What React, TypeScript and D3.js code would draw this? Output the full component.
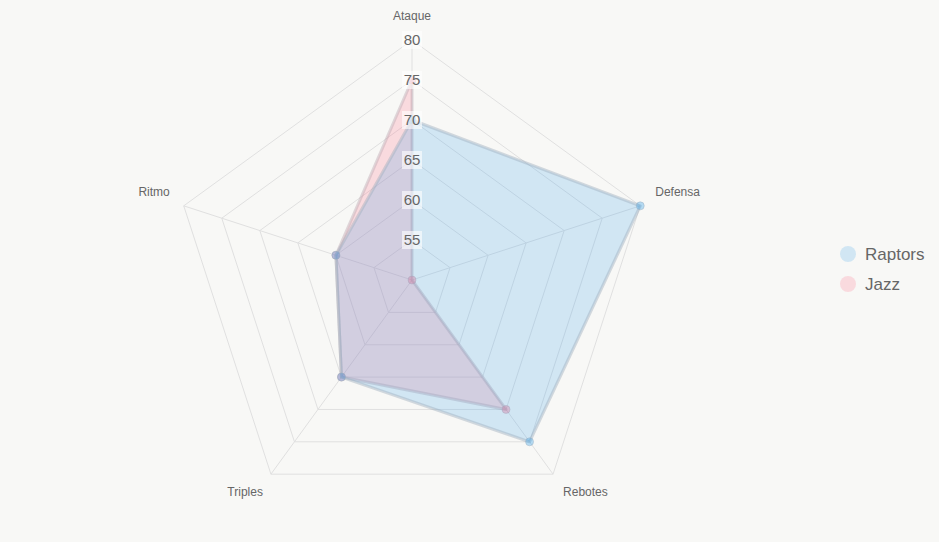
import * as d3 from "d3";
import { useEffect, useRef } from "react";

// radar axes and values
const axes = ["Ataque", "Defensa", "Rebotes", "Triples", "Ritmo"];
const raptors = [70, 80, 75, 65, 60];
const jazz = [75, 50, 70, 65, 60];
const ticks = [55, 60, 65, 70, 75, 80];
const seriesNames = ["Raptors", "Jazz"];

const W = 939;
const H = 542;
const cx = 412;
const cy = 280;
const R = 240;

const fills = ["rgba(54,162,235,0.2)", "rgba(255,99,132,0.2)"];
const strokes = ["rgba(160,175,190,0.45)", "rgba(190,170,180,0.45)"];
const pointFills = ["rgba(54,162,235,0.35)", "rgba(255,99,132,0.35)"];

const draw = (el: SVGSVGElement) => {
  const svg = d3.select(el);
  svg.selectAll("*").remove();
  const font = "'Liberation Sans', Arial, sans-serif";

  svg.append("rect").attr("width", W).attr("height", H).attr("fill", "#f8f8f6");

  const r = d3.scaleLinear().domain([50, 80]).range([0, R]);
  const angle = (i: number) => (i * 2 * Math.PI) / axes.length;
  const pt = (i: number, v: number): [number, number] => [
    cx + r(v) * Math.sin(angle(i)),
    cy - r(v) * Math.cos(angle(i)),
  ];

  const g = svg.append("g");

  // grid rings
  ticks.forEach((t) => {
    const pts = axes.map((_, i) => pt(i, t));
    g.append("path")
      .attr("d", d3.line()([...pts, pts[0]]))
      .attr("fill", "none")
      .attr("stroke", "#e0e0e0")
      .attr("stroke-width", 1);
  });
  // angle lines
  axes.forEach((_, i) => {
    const [x, y] = pt(i, 80);
    g.append("line")
      .attr("x1", cx).attr("y1", cy).attr("x2", x).attr("y2", y)
      .attr("stroke", "#e0e0e0");
  });

  // datasets, first one drawn on top
  const line = d3.line().curve(d3.curveLinearClosed);
  const sets = [raptors, jazz];
  [1, 0].forEach((s) => {
    const pts = sets[s].map((v, i) => pt(i, v));
    g.append("path")
      .attr("d", line(pts))
      .attr("fill", fills[s])
      .attr("stroke", strokes[s])
      .attr("stroke-width", 3)
      .attr("stroke-linejoin", "round");
    pts.forEach(([x, y]) => {
      g.append("circle")
        .attr("cx", x).attr("cy", y).attr("r", 4)
        .attr("fill", pointFills[s])
        .attr("stroke", strokes[s])
        .attr("stroke-width", 1);
    });
  });

  // tick labels with backdrop
  ticks.forEach((t) => {
    const y = cy - r(t);
    g.append("rect")
      .attr("x", cx - 10).attr("y", y - 9).attr("width", 20).attr("height", 18)
      .attr("fill", "rgba(255,255,255,0.6)");
    g.append("text")
      .attr("x", cx).attr("y", y).attr("dy", "0.35em")
      .attr("text-anchor", "middle")
      .attr("font-family", font).attr("font-size", 15)
      .attr("fill", "#666")
      .text(t);
  });

  // point labels
  const labelPos: [number, number, string][] = [
    [0, -24, "middle"],
    [15, -14, "start"],
    [10, 18, "start"],
    [-8, 18, "end"],
    [-14, -14, "end"],
  ];
  axes.forEach((name, i) => {
    const [x, y] = pt(i, 80);
    const [ox, oy, anchor] = labelPos[i];
    g.append("text")
      .attr("x", x + ox).attr("y", y + oy).attr("dy", "0.35em")
      .attr("text-anchor", anchor)
      .attr("font-family", font).attr("font-size", 12)
      .attr("fill", "#666")
      .text(name);
  });

  // legend
  const lg = svg.append("g").attr("transform", "translate(848,254)");
  seriesNames.forEach((n, s) => {
    lg.append("circle")
      .attr("cx", 0).attr("cy", s * 30).attr("r", 8)
      .attr("fill", fills[s]);
    lg.append("text")
      .attr("x", 17).attr("y", s * 30).attr("dy", "0.35em")
      .attr("font-family", font).attr("font-size", 17)
      .attr("fill", "#666")
      .text(n);
  });
};

export default function App() {
  const ref = useRef<SVGSVGElement>(null);
  useEffect(() => {
    if (!ref.current) return;
    draw(ref.current);
  }, []);
  return (
    <svg
      ref={ref}
      width={W}
      height={H}
      style={{ position: "absolute", left: 0, top: 0 }}
    />
  );
}
